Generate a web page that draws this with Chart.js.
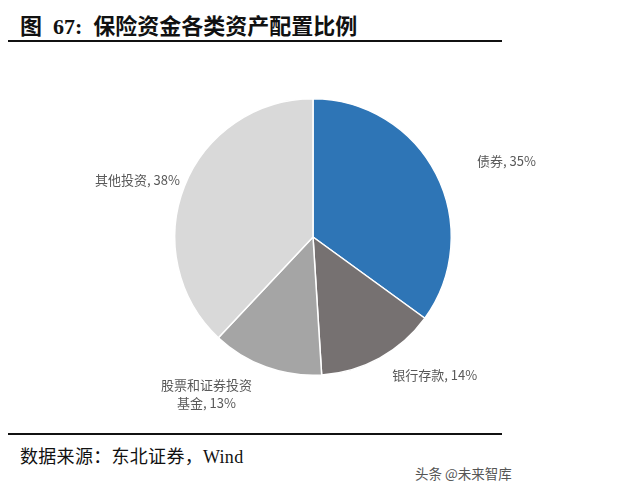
<!DOCTYPE html>
<html>
<head>
<meta charset="utf-8">
<script src="https://cdn.jsdelivr.net/npm/chart.js@4"></script>
<style>
  html, body { margin: 0; padding: 0; background: #fff; }
  body { width: 640px; height: 493px; position: relative; overflow: hidden; }
  .title { position: absolute; left: 20px; top: 8px; font-family: "Liberation Serif", "Noto Sans CJK SC", serif; font-weight: bold; font-size: 22px; color: #111; white-space: pre; }
  .rule { position: absolute; left: 8px; width: 494px; height: 2px; background: #111; }
  .source { position: absolute; left: 20px; top: 442px; font-family: "Liberation Serif", "Noto Sans CJK SC", serif; font-size: 18px; color: #111; white-space: pre; letter-spacing: 0.3px; }
  .wm { position: absolute; left: 415px; top: 463px; font-family: "Noto Sans CJK SC", sans-serif; font-size: 13.5px; color: #555; }
  #wrap { position: absolute; left: 0; top: 60px; width: 640px; height: 370px; }
</style>
</head>
<body>
<div class="title">图  67:  保险资金各类资产配置比例</div>
<div class="rule" style="top:40px"></div>
<div class="rule" style="top:433px"></div>
<div class="source">数据来源：东北证券，Wind</div>
<div class="wm">头条 @未来智库</div>
<div id="wrap"><canvas id="c"></canvas></div>
<script>
const categories = ["债券", "银行存款", "股票和证券投资基金", "其他投资"];
const labelLines = [["债券, 35%"], ["银行存款, 14%"], ["股票和证券投资", "基金, 13%"], ["其他投资, 38%"]];
const values = [35, 14, 13, 38];
const colors = ["#2E75B6", "#767171", "#A5A5A5", "#D9D9D9"];
// label offsets from pie centre, in units of the pie radius
const labelOffsets = [[1.40, -0.55], [0.88, 1.00], [-0.77, 1.07], [-1.27, -0.41]];

const labelPlugin = {
  id: 'outLabels',
  afterDatasetsDraw(chart) {
    const ctx = chart.ctx;
    const meta = chart.getDatasetMeta(0);
    ctx.save();
    ctx.fillStyle = '#595959';
    ctx.font = '13px "Noto Sans CJK SC", "Liberation Sans", sans-serif';
    ctx.textAlign = 'center';
    ctx.textBaseline = 'middle';
    meta.data.forEach((arc, i) => {
      const r = arc.outerRadius;
      const x = arc.x + labelOffsets[i][0] * r;
      const y = arc.y + labelOffsets[i][1] * r;
      labelLines[i].forEach((ln, k) => ctx.fillText(ln, x, y + k * 18));
    });
    ctx.restore();
  }
};

new Chart(document.getElementById('c'), {
  type: 'pie',
  data: {
    labels: categories,
    datasets: [{ data: values, backgroundColor: colors, borderColor: '#ffffff', borderWidth: 1.5 }]
  },
  options: {
    responsive: true,
    maintainAspectRatio: false,
    animation: false,
    layout: { padding: { left: 174, right: 188, top: 38, bottom: 54 } },
    plugins: { legend: { display: false }, tooltip: { enabled: false } }
  },
  plugins: [labelPlugin]
});
</script>
</body>
</html>
